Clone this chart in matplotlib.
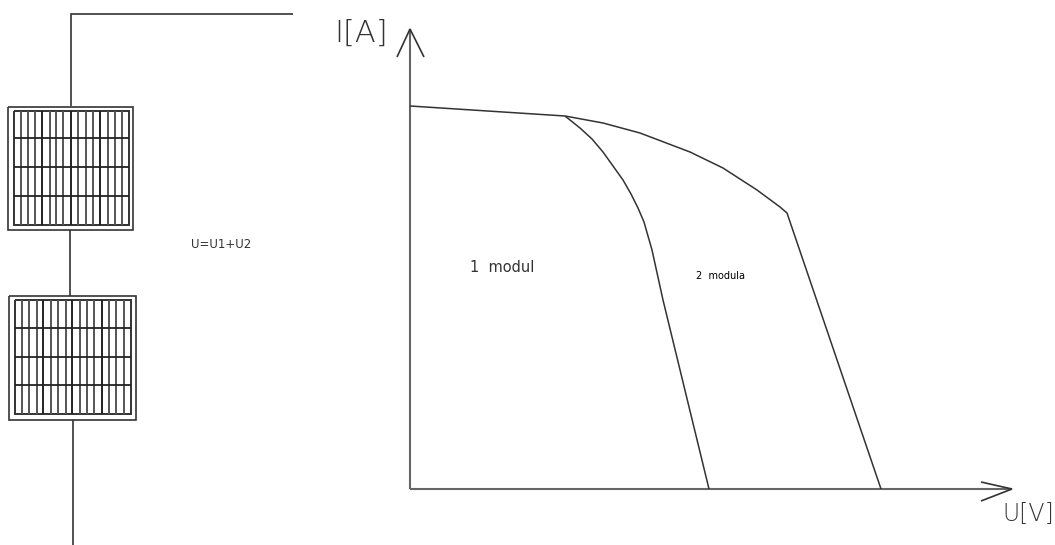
import matplotlib
matplotlib.use("Agg")
import matplotlib.pyplot as plt

# Curves (U, I read in picture units)
curve_common_u = [410, 565]
curve_common_i = [106, 116]
curve_one_u = [565, 580, 592, 603, 613, 623, 631, 638, 644, 648, 652, 663, 709]
curve_one_i = [116, 128, 139, 152, 166, 180, 194, 208, 222, 236, 250, 300, 489]
curve_two_u = [565, 603, 640, 690, 723, 757, 780, 787, 881]
curve_two_i = [116, 123, 133, 152, 168, 190, 207, 213, 489]

# Axes of the diagram
axis_origin = (410, 489)
axis_top = 29
axis_right = 1012
arrow_i_u = [397, 410, 424]
arrow_i_i = [57, 29, 57]
arrow_u_u = [981, 1012, 981]
arrow_u_i = [482, 489, 501]

# Wiring
wire_top_x = [293, 71, 71]
wire_top_y = [14, 14, 106]
wire_mid_x = [70, 70]
wire_mid_y = [230, 296]
wire_bottom_x = [73, 73]
wire_bottom_y = [420, 545]

# Modules: outer frame, inner frame, grid
mod1_outer = (8, 133, 107, 230)
mod1_inner = (13.5, 129, 110.5, 225)
mod1_cols = [20.7, 27.7, 35, 42, 50, 56, 63.3, 70.7, 78.3, 85.7, 92.7, 100, 108.3, 115, 122.3]
mod1_rows = [138, 167, 196]
mod2_outer = (9, 135.5, 296, 420)
mod2_inner = (14.5, 131, 300, 414)
mod2_cols = [22, 29, 37, 43, 51, 58, 66, 72, 80, 87, 94, 101.5, 109, 116, 124]
mod2_rows = [328, 357, 385]

texts = [
    ("I[A]", 361, 33, 22, "#333333", "light"),
    ("U[V]", 1028, 514, 17, "#333333", "light"),
    ("U=U1+U2", 221, 245, 8.5, "#333333", "normal"),
    ("1  modul", 502, 267, 10.5, "#333333", "normal"),
    ("2  modula", 721, 276, 7, "#000000", "normal"),
]

fig = plt.figure(figsize=(10.55, 5.45), dpi=100)
ax = fig.add_axes([0, 0, 1, 1])
ax.set_xlim(0, 1055)
ax.set_ylim(545, 0)
ax.axis("off")

C = "#333333"
def line(x, y, lw=1.3, c=C):
    ax.plot(x, y, color=c, lw=lw, solid_capstyle="butt", solid_joinstyle="miter")

def frame(b, lw=1.3):
    l, r, t, bt = b
    line([l, r, r, l, l], [t, t, bt, bt, t], lw)

def module(outer, inner, cols, rows):
    frame(outer, 1.2)
    frame(inner, 1.4)
    l, r, t, b = inner
    for i, x in enumerate(cols):
        line([x, x], [t, b], 1.4, "#555555" if (i + 1) % 4 else "#222222")
    for y in rows:
        line([l, r], [y, y], 1.3, "#222222")

line(wire_top_x, wire_top_y, 1.2)
line(wire_mid_x, wire_mid_y, 1.2)
line(wire_bottom_x, wire_bottom_y, 1.2)
module(mod1_outer, mod1_inner, mod1_cols, mod1_rows)
module(mod2_outer, mod2_inner, mod2_cols, mod2_rows)

line([axis_origin[0], axis_origin[0]], [axis_origin[1], axis_top], 1.5, "#666666")
line([axis_origin[0], axis_right], [axis_origin[1], axis_origin[1]], 1.5, "#666666")
line(arrow_i_u, arrow_i_i, 1.2)
line(arrow_u_u, arrow_u_i, 1.2)

line(curve_common_u, curve_common_i, 1.1)
line(curve_one_u, curve_one_i, 1.1)
line(curve_two_u, curve_two_i, 1.1)

for s, x, y, size, col, weight in texts:
    ax.text(x, y, s, fontsize=size, color=col, ha="center", va="center",
            family="DejaVu Sans", fontweight=weight)

fig.savefig("out.png", dpi=100, facecolor="white")
